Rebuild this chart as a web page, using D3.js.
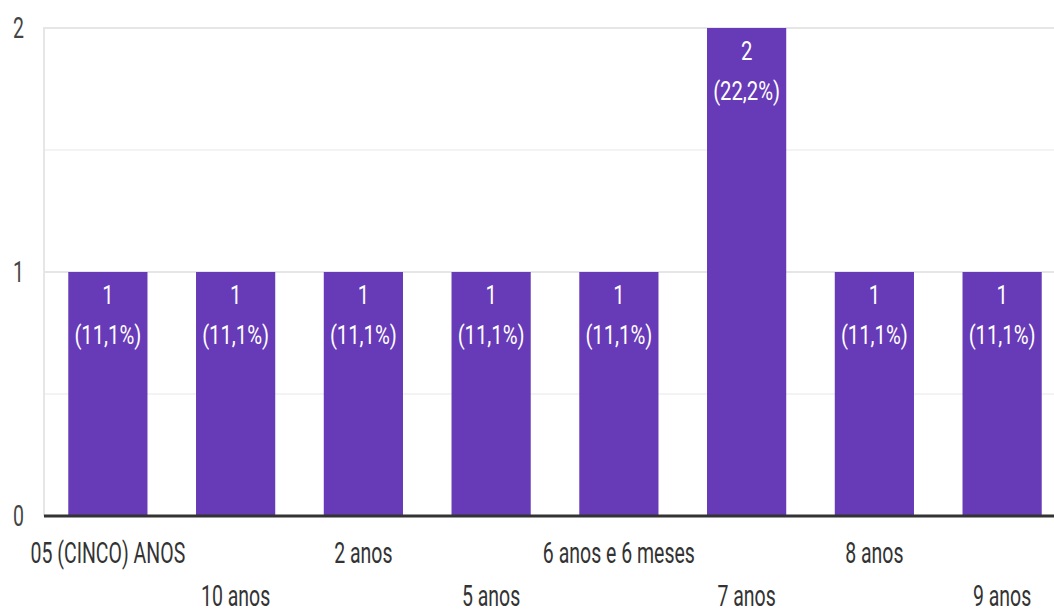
<!DOCTYPE html>
<html>
<head>
<meta charset="utf-8">
<script src="https://cdn.jsdelivr.net/npm/d3@7"></script>
<style>
  html, body { margin: 0; padding: 0; background: #fff; }
  svg { display: block; font-family: Roboto, Arial, sans-serif; }
</style>
</head>
<body>
<div id="chart"></div>
<script>
const categories = ["05 (CINCO) ANOS", "10 anos", "2 anos", "5 anos", "6 anos e 6 meses", "7 anos", "8 anos", "9 anos"];
const counts = [1, 1, 1, 1, 1, 2, 1, 1];
const percents = ["11,1%", "11,1%", "11,1%", "11,1%", "11,1%", "22,2%", "11,1%", "11,1%"];
const yTicks = [0, 1, 2];
const yMinor = [0.5, 1.5];

const w = 1054;
const h = 613;
const left = 44;
const plotTop = 28;
const bottom = 516;
const sx = 0.65; // axis text is drawn narrow like the reference
const sxBar = 0.78;

const svg = d3.select("#chart")
  .append("svg")
  .attr("width", w)
  .attr("height", h);

const x = d3.scaleBand()
  .domain(categories)
  .range([left, 1066])
  .paddingInner(0.38)
  .paddingOuter(0.19);

const y = d3.scaleLinear()
  .domain([0, 2])
  .range([bottom, plotTop]);

// minor gridlines
svg.selectAll("line.minor")
  .data(yMinor)
  .join("line")
  .attr("class", "minor")
  .attr("x1", left).attr("x2", w)
  .attr("y1", d => y(d)).attr("y2", d => y(d))
  .attr("stroke", "#f3f3f3")
  .attr("stroke-width", 2);

// major gridlines
svg.selectAll("line.major")
  .data(yTicks.filter(d => d > 0))
  .join("line")
  .attr("class", "major")
  .attr("x1", left).attr("x2", w)
  .attr("y1", d => y(d)).attr("y2", d => y(d))
  .attr("stroke", "#e6e6e6")
  .attr("stroke-width", 2);

// left light axis line
svg.append("line")
  .attr("x1", left).attr("x2", left)
  .attr("y1", y(2) - 1).attr("y2", bottom)
  .attr("stroke", "#e6e6e6")
  .attr("stroke-width", 2);

// bars
svg.selectAll("rect.bar")
  .data(counts)
  .join("rect")
  .attr("class", "bar")
  .attr("x", (d, i) => x(categories[i]))
  .attr("y", d => y(d))
  .attr("width", x.bandwidth())
  .attr("height", d => bottom - y(d))
  .attr("fill", "#673ab7");

// baseline
svg.append("line")
  .attr("x1", left).attr("x2", w)
  .attr("y1", bottom).attr("y2", bottom)
  .attr("stroke", "#333")
  .attr("stroke-width", 3);

// bar labels
const lab = svg.selectAll("g.lab")
  .data(counts)
  .join("g")
  .attr("class", "lab")
  .attr("transform", (d, i) => `translate(${x(categories[i]) + x.bandwidth() / 2},${y(d)})`);

lab.append("text")
  .attr("transform", `translate(0,23) scale(${sxBar},1)`)
  .attr("text-anchor", "middle")
  .attr("dominant-baseline", "central")
  .attr("fill", "#fff")
  .style("font-size", "26px")
  .text(d => d);

lab.append("text")
  .attr("transform", `translate(0,63) scale(${sxBar},1)`)
  .attr("text-anchor", "middle")
  .attr("dominant-baseline", "central")
  .attr("fill", "#fff")
  .style("font-size", "26px")
  .text((d, i) => `(${percents[i]})`);

// y tick labels
svg.selectAll("text.ytick")
  .data(yTicks)
  .join("text")
  .attr("class", "ytick")
  .attr("transform", d => `translate(24,${y(d)}) scale(${sx},1)`)
  .attr("text-anchor", "end")
  .attr("dominant-baseline", "central")
  .attr("fill", "#444")
  .style("font-size", "30px")
  .text(d => d);

// x category labels, alternating rows
svg.selectAll("text.xlab")
  .data(categories)
  .join("text")
  .attr("class", "xlab")
  .attr("transform", (d, i) => `translate(${x(d) + x.bandwidth() / 2},${i % 2 === 0 ? 553 : 596}) scale(${sx},1)`)
  .attr("text-anchor", "middle")
  .attr("dominant-baseline", "central")
  .attr("fill", "#333")
  .style("font-size", "30px")
  .text(d => d);
</script>
</body>
</html>
